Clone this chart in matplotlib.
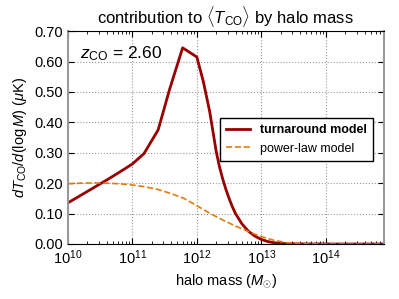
import numpy as np
import matplotlib
matplotlib.use('Agg')
import matplotlib.pyplot as plt
from matplotlib.ticker import FormatStrFormatter, LogLocator

plt.rcParams['font.family'] = ['Liberation Sans', 'DejaVu Sans']
plt.rcParams['mathtext.fontset'] = 'custom'
plt.rcParams['mathtext.rm'] = 'Liberation Sans'
plt.rcParams['mathtext.it'] = 'Liberation Sans:italic'
plt.rcParams['mathtext.bf'] = 'Liberation Sans:bold'

# log10 halo mass and dT/dlogM for the two models
logm_turn = [10.0, 10.2, 10.4, 10.6, 10.8, 11.0, 11.18, 11.4, 11.58, 11.78,
             12.0, 12.1, 12.2, 12.25, 12.3, 12.35, 12.4, 12.45, 12.5, 12.55,
             12.6, 12.7, 12.8, 12.9, 13.0, 13.1, 13.2, 13.3, 13.4, 13.6, 14.0, 14.9]
dT_turn = [0.135, 0.160, 0.185, 0.210, 0.236, 0.263, 0.297, 0.375, 0.510, 0.645,
           0.615, 0.535, 0.435, 0.370, 0.305, 0.255, 0.215, 0.180, 0.150, 0.123,
           0.100, 0.066, 0.042, 0.026, 0.015, 0.008, 0.004, 0.002, 0.001, 0.0003,
           0.0, 0.0]

logm_pl = [10.0, 10.2, 10.4, 10.6, 10.8, 11.0, 11.2, 11.4, 11.6, 11.8, 12.0,
           12.2, 12.4, 12.6, 12.8, 13.0, 13.2, 13.4, 13.6, 13.8, 14.0, 14.9]
dT_pl = [0.198, 0.200, 0.201, 0.200, 0.198, 0.194, 0.188, 0.179, 0.166, 0.150, 0.126,
         0.101, 0.079, 0.059, 0.041, 0.024, 0.012, 0.004, 0.0015, 0.0004, 0.0, 0.0]

z_co = 2.60

fig = plt.figure(figsize=(3.99, 2.99), dpi=100)
ax = fig.add_axes([0.170, 0.184, 0.792, 0.712])

ax.plot(10**np.array(logm_turn), dT_turn, color='#990000', lw=2,
        label='turnaround model')
ax.plot(10**np.array(logm_pl), dT_pl, color='#e07b10', lw=1.2, ls='--',
        label='power-law model')

ax.set_xscale('log')
ax.set_xlim(1e10, 10**14.9)
ax.set_ylim(0, 0.70)
ax.set_yticks(np.arange(0, 0.71, 0.1))
ax.yaxis.set_major_formatter(FormatStrFormatter('%.2f'))
ax.xaxis.set_minor_locator(LogLocator(base=10, subs=np.arange(2, 10), numticks=20))
ax.grid(True, ls=':', color='#999999', lw=0.8)
ax.tick_params(direction='in', labelsize=10.5, top=True, right=True, length=4)
ax.tick_params(which='minor', direction='in', top=True, length=2)
ax.spines['top'].set_color('black')
ax.spines['bottom'].set_color('black')
ax.spines['left'].set_color('#999999')
ax.spines['right'].set_color('#999999')
ax.spines['left'].set_linewidth(1.5)
ax.spines['right'].set_linewidth(1.5)

ax.set_title(r'contribution to $\langle T_{\rm CO}\rangle$ by halo mass', fontsize=12)
ax.set_xlabel(r'halo mass ($M_{\odot}$)', fontsize=10.5)
ax.set_ylabel(r'$dT_{\rm CO}/d(\log M)$ ($\mu$K)', fontsize=10.5)
ax.text(0.04, 0.87, r'$z_{\rm CO}$ = %.2f' % z_co, transform=ax.transAxes, fontsize=12.5)

leg = ax.legend(loc='upper right', bbox_to_anchor=(0.985, 0.62), fontsize=9,
                fancybox=False, framealpha=1, edgecolor='black', handlelength=1.9,
                borderpad=0.5)
leg.get_texts()[0].set_fontweight('bold')

fig.savefig('out.png', dpi=100)
